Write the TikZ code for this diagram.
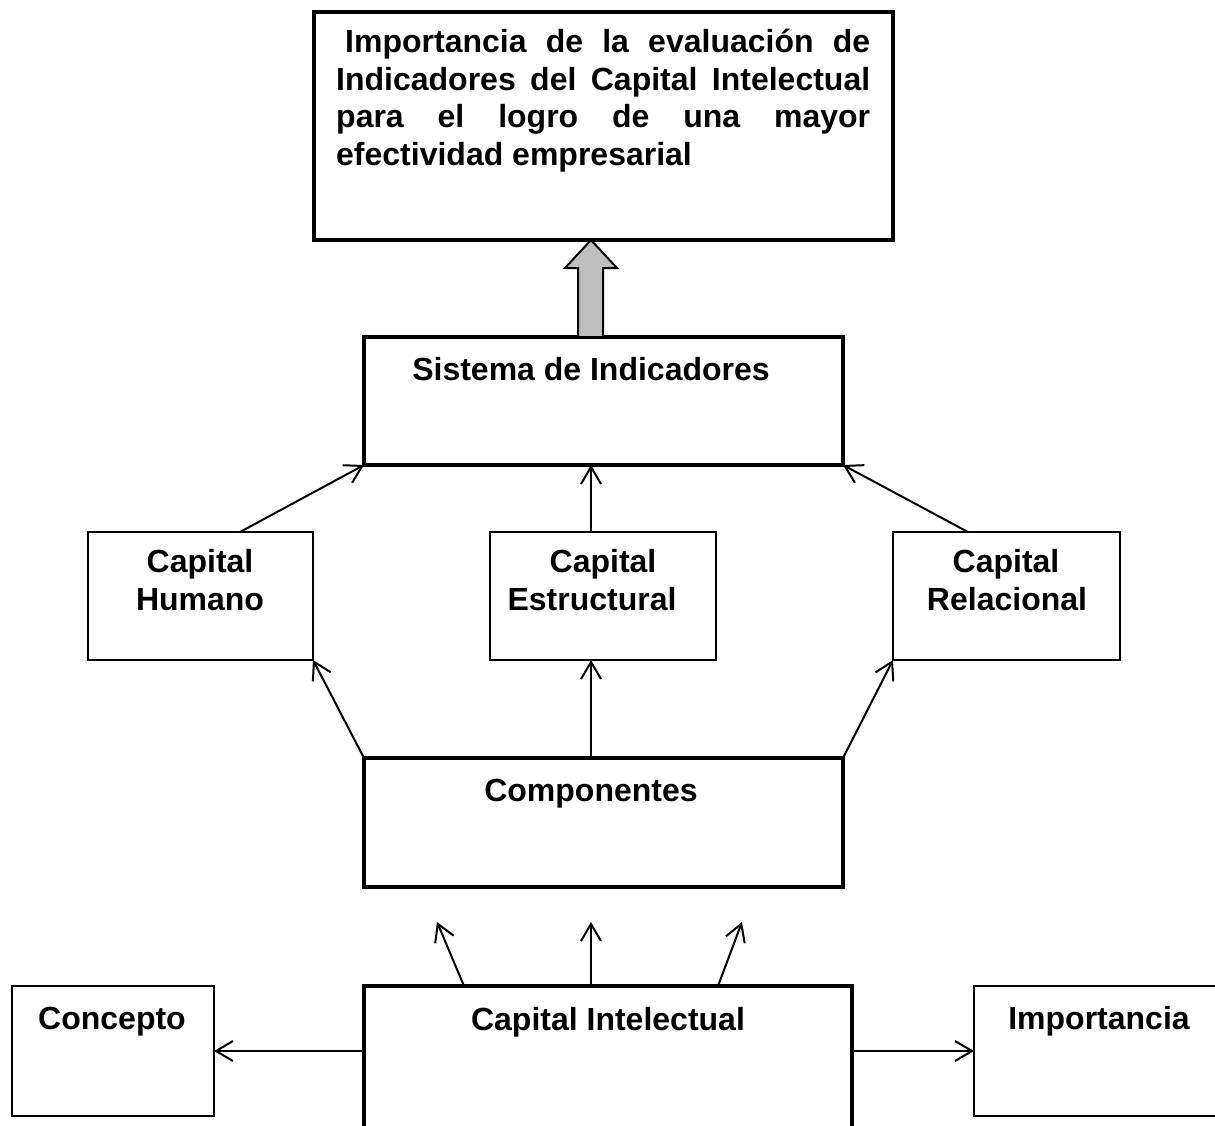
\documentclass[tikz,border=0pt]{standalone}
\usepackage{fontspec}
\setmainfont{Liberation Sans}
\usetikzlibrary{arrows.meta,calc}
\begin{document}
\begin{tikzpicture}[x=1pt,y=-1pt,
  thickbox/.style={draw,line width=4pt,inner sep=0pt,outer sep=0pt,anchor=north west},
  thinbox/.style={draw,line width=2pt,inner sep=0pt,outer sep=0pt,anchor=north west},
  lbl/.style={inner sep=0pt,anchor=base,font=\fontsize{32}{32}\selectfont\bfseries},
  lbll/.style={inner sep=0pt,anchor=base west,font=\fontsize{32}{32}\selectfont\bfseries},
  conn/.style={line width=2pt,-{Straight Barb[length=17pt,width=20pt,line width=2pt]}},
  hollow/.style={draw,line width=2pt,fill=black!25,line join=miter}]
\useasboundingbox (0,0) rectangle (1215,1125);
% boxes
\node[thickbox,minimum width=579pt,minimum height=228pt] (top) at (314,12) {};
\node[thickbox,minimum width=479pt,minimum height=128pt] (sis) at (364,337) {};
\node[thinbox,minimum width=225pt,minimum height=128pt] (hum) at (88,532) {};
\node[thinbox,minimum width=226pt,minimum height=128pt] (est) at (490,532) {};
\node[thinbox,minimum width=227pt,minimum height=128pt] (rel) at (893,532) {};
\node[thickbox,minimum width=479pt,minimum height=129pt] (comp) at (364,758) {};
\node[thickbox,minimum width=488pt,minimum height=170pt] (ci) at (364,986) {};
\node[thinbox,minimum width=202pt,minimum height=130pt] (con) at (12,986) {};
\node[thinbox,minimum width=270pt,minimum height=130pt] (imp) at (974,986) {};
% texts
\node[lbll] (t1) at (336,52) {\makebox[534pt][s]{\hspace*{9pt}Importancia de la evaluación de}};
\node[lbll] (t2) at (336,90) {\makebox[534pt][s]{Indicadores del Capital Intelectual}};
\node[lbll] (t3) at (336,127) {\makebox[534pt][s]{para el logro de una mayor}};
\node[lbll] (t4) at (336,165) {efectividad empresarial};
\node[lbl] (tsis) at (591,380) {Sistema de Indicadores};
\node[lbl] (thum1) at (200,572) {Capital};
\node[lbl] (thum2) at (200,610) {Humano};
\node[lbl] (test1) at (603,572) {Capital};
\node[lbl] (test2) at (592,610) {Estructural};
\node[lbl] (trel1) at (1006,572) {Capital};
\node[lbl] (trel2) at (1007,610) {Relacional};
\node[lbl] (tcomp) at (591,801) {Componentes};
\node[lbl] (tci) at (608,1030) {Capital Intelectual};
\node[lbl] (tcon) at (112,1029) {Concepto};
\node[lbl] (timp) at (1099,1029) {Importancia};
% hollow arrow from Sistema to top box
\draw[hollow] ($(sis.north west)+(214,0)$) -- ++(0,-69) -- ++(-13,0)
  -- ($(top.south west)+(277,0)$) -- ($(sis.north west)+(253,-69)$) -- ++(-14,0)
  -- ($(sis.north west)+(239,0)$) -- cycle;
% connectors
\draw[conn] ($(hum.north west)+(152,0)$) -- (sis.south west);
\draw[conn] ($(est.north west)+(101,0)$) -- ($(sis.south west)+(227,0)$);
\draw[conn] ($(rel.north west)+(75,0)$) -- (sis.south east);
\draw[conn] (comp.north west) -- (hum.south east);
\draw[conn] ($(comp.north west)+(227,0)$) -- ($(est.south west)+(101,0)$);
\draw[conn] (comp.north east) -- (rel.south west);
\coordinate (c1) at (437,922);
\coordinate (c2) at (591,922);
\coordinate (c3) at (742,922);
\draw[conn] ($(ci.north west)+(100,0)$) -- (c1);
\draw[conn] ($(ci.north west)+(227,0)$) -- (c2);
\draw[conn] ($(ci.north west)+(354,0)$) -- (c3);
\draw[conn] ($(ci.north west)+(0,65)$) -- ($(con.north east)+(0,65)$);
\draw[conn] ($(ci.north east)+(0,65)$) -- ($(imp.north west)+(0,65)$);
\end{tikzpicture}
\end{document}
